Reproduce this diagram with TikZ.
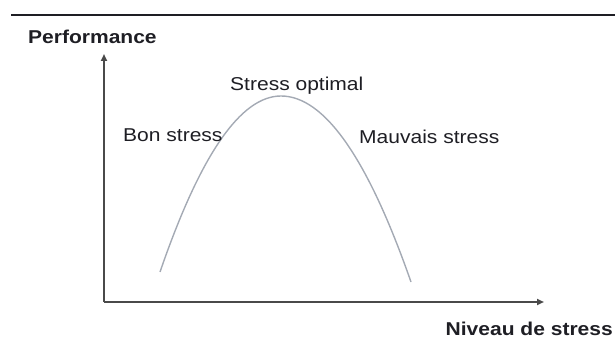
\documentclass[tikz,border=0pt]{standalone}
\usepackage{fontspec}
\setmainfont[FakeStretch=1.13]{Liberation Sans}
\usetikzlibrary{arrows.meta}
\definecolor{txt}{HTML}{1E1E24}
\definecolor{axis}{HTML}{4A4A4A}
\definecolor{curve}{HTML}{A4AAB4}
\begin{document}
\begin{tikzpicture}[x=1pt,y=-1pt,
  lbl/.style={inner sep=0pt,anchor=base west,text=txt,font=\fontsize{18.6}{20}\selectfont},
  axisline/.style={draw=axis,line width=2pt,-{Triangle[length=7pt,width=6pt]}},
  curveline/.style={draw=curve,line width=1.4pt}]
\useasboundingbox (0,0) rectangle (615,347);
\coordinate (tl) at (11,15);
\coordinate (tr) at (615,15);
\draw[line width=1.8pt,color=txt] (tl) -- (tr);
\coordinate (o) at (104,302);
\coordinate (ytop) at (104,54);
\coordinate (xend) at (544,302);
\draw[axisline] (o) -- (ytop);
\draw[axisline] (o) -- (xend);
\coordinate (c0) at (160,272);
\coordinate (peak) at (281,96);
\coordinate (c1) at (411,282);
\draw[curveline] (c0) .. controls (200.3,154.7) and (240.7,96) .. (peak)
  .. controls (324.3,96) and (367.7,158) .. (c1);
\node[lbl,font=\fontsize{18.6}{20}\selectfont\bfseries] (perf) at (28,43.3) {Performance};
\node[lbl,font=\fontsize{18.6}{20}\selectfont\bfseries] (niv) at (445.5,335.7) {Niveau de stress};
\node[lbl] (opt) at (230,91) {Stress optimal};
\node[lbl] (bon) at (123,142) {Bon stress};
\node[lbl] (mau) at (359,143.8) {Mauvais stress};
\end{tikzpicture}
\end{document}
